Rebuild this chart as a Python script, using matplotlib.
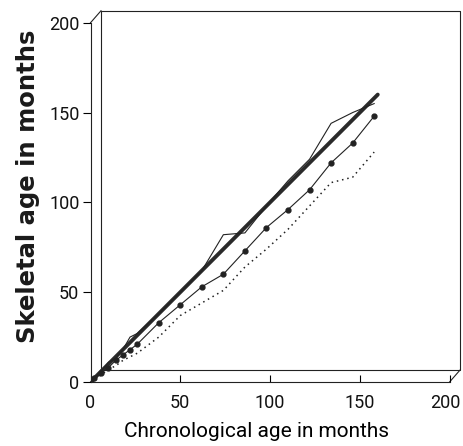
import matplotlib
matplotlib.use("Agg")
import matplotlib.pyplot as plt
import matplotlib.transforms as mtrans
import numpy as np

# chronological age (months) at the exam points
ages = [0, 2, 6, 10, 14, 18, 22, 26, 38, 50, 62, 74, 86, 98, 110, 122, 134, 146, 158]

# reference line, skeletal age == chronological age
ref_x = [0, 160]
ref_y = [0, 160]

# thin irregular series
thin_y = [0, 2, 6, 11, 13, 18, 25, 27, 38, 50, 62, 82, 83, 98, 112, 124, 144, 150, 155]

# series with filled markers
mark_y = [0, 2, 5, 8, 12, 15, 18, 21, 33, 43, 53, 60, 73, 86, 96, 107, 122, 133, 148]

# dotted series
dot_y = [0, 1, 4, 7, 9, 12, 14, 16, 25, 37, 44, 51, 64, 74, 85, 98, 111, 114, 128]

ticks = [0, 50, 100, 150, 200]

fig = plt.figure(figsize=(4.63, 4.46), dpi=100)
ax = fig.add_axes([0.1955, 0.1435, 0.7755, 0.8055])

font = ["Roboto", "DejaVu Sans"]

ax.plot(ref_x, ref_y, color="#2a2a2a", lw=2.8, solid_capstyle="round", zorder=3)
ax.plot(ages, thin_y, color="#222222", lw=0.8, zorder=4)
ax.plot(ages, mark_y, color="#222222", lw=0.8, marker="o", ms=3.5,
        markerfacecolor="#222222", markeredgecolor="#222222", zorder=4)
ax.plot(ages, dot_y, color="#222222", lw=1.1, ls=(0, (1, 2.5)), zorder=4)

ax.set_xlim(0, 200)
ax.set_ylim(0, 200)
ax.set_xticks(ticks)
ax.set_yticks(ticks)
ax.set_xticklabels([str(t) for t in ticks], family=font, fontsize=13,
                   color="#111111")
ax.set_yticklabels([str(t) for t in ticks], family=font, fontsize=13,
                   color="#111111")
ax.tick_params(axis="x", direction="in", length=5, width=0.8, pad=9)
ax.tick_params(axis="y", direction="out", length=6, width=0.8, pad=2)

# nudge the last x label so it stays inside the picture
last = ax.get_xticklabels()[-1]
last.set_transform(last.get_transform()
                   + mtrans.ScaledTranslation(-3 / 72, 0, fig.dpi_scale_trans))

for s in ["top", "right"]:
    ax.spines[s].set_visible(False)
for s in ["left", "bottom"]:
    ax.spines[s].set_linewidth(0.8)
    ax.spines[s].set_color("#222222")

# pseudo-3D back panel of the frame
back = mtrans.offset_copy(ax.transAxes, fig=fig, x=10.5, y=12, units="dots")
ax.plot([0, 0, 1, 1, 0], [0, 1, 1, 0, 0], transform=back, color="#222222",
        lw=0.8, clip_on=False, zorder=1)
for cx, cy in [(0, 0), (0, 1), (1, 0)]:
    p0 = ax.transAxes.transform((cx, cy))
    p1 = back.transform((cx, cy))
    ax.plot([p0[0], p1[0]], [p0[1], p1[1]], transform=None, color="#222222",
            lw=0.8, clip_on=False, zorder=1)

ax.set_xlabel("Chronological age in months", family=font, fontsize=15)
ax.set_ylabel("Skeletal age in months", family="DejaVu Sans",
              fontsize=17.5, fontweight="bold", color="#1a1a1a")
ax.xaxis.set_label_coords(0.4616, -0.139)
ax.yaxis.set_label_coords(-0.174, 0.545)
ax.xaxis.label.set_va("center")
ax.yaxis.label.set_va("center")

fig.savefig("out.png", dpi=100, facecolor="white")
